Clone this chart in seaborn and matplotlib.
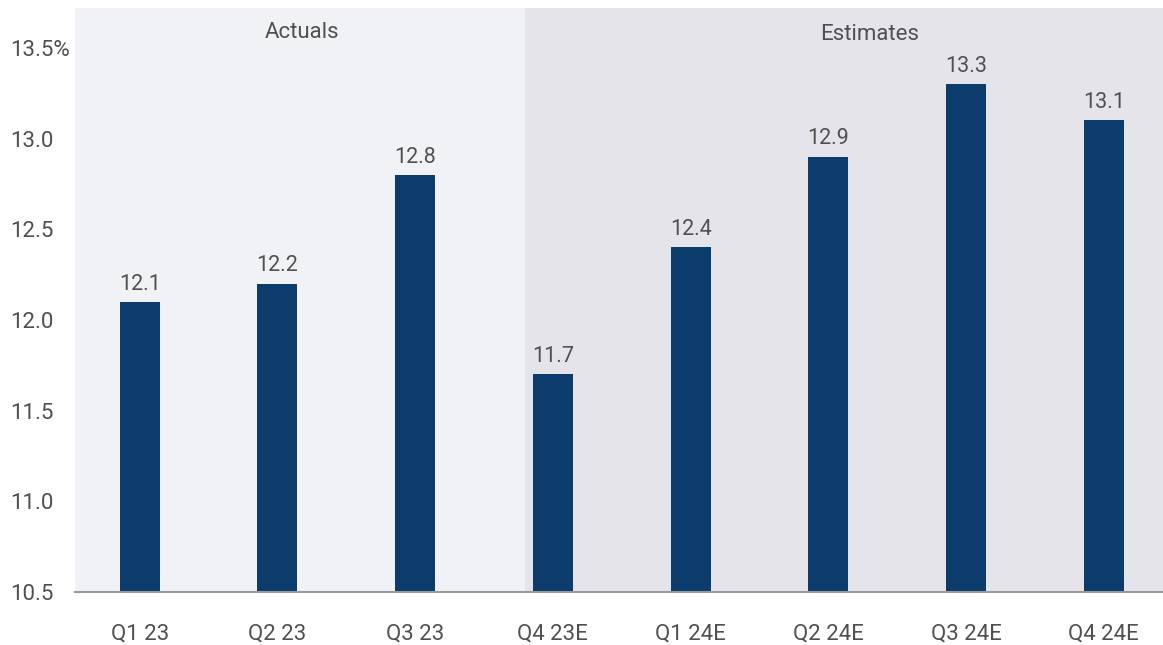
import matplotlib
matplotlib.use("Agg")
import matplotlib.pyplot as plt
import seaborn as sns
import pandas as pd

categories = ["Q1 23", "Q2 23", "Q3 23", "Q4 23E", "Q1 24E", "Q2 24E", "Q3 24E", "Q4 24E"]
values = [12.1, 12.2, 12.8, 11.7, 12.4, 12.9, 13.3, 13.1]
y_ticks = [10.5, 11.0, 11.5, 12.0, 12.5, 13.0, 13.5]
y_tick_labels = ["10.5", "11.0", "11.5", "12.0", "12.5", "13.0", "13.5%"]
region_labels = ["Actuals", "Estimates"]

sns.set_theme(style="white")
plt.rcParams['font.family'] = ['Roboto', 'DejaVu Sans']

df = pd.DataFrame({"cat": categories, "val": values})

fig = plt.figure(figsize=(11.63, 6.45), dpi=100)
ax = fig.add_axes([0.0645, 0.0822, 0.9355, 0.9054])

x_left, x_right, split = -0.47, 7.43, 2.8
ax.axvspan(x_left, split, color="#f1f2f5", zorder=0, lw=0)
ax.axvspan(split, x_right, color="#e4e4ea", zorder=0, lw=0)

sns.barplot(data=df, x="cat", y="val", color="#0b3c6b", width=0.29,
            saturation=1, linewidth=0, ax=ax, zorder=2)

ax.set_ylim(10.5, 13.72)
ax.set_xlim(x_left, x_right)
ax.set_yticks(y_ticks)
ax.set_yticklabels(y_tick_labels)
ax.set_xlabel("")
ax.set_ylabel("")

txt_color = "#505050"
for i, v in enumerate(values):
    ax.text(i, v + 0.04, f"{v:.1f}", ha="center", va="bottom",
            fontsize=15.5, color=txt_color)

ax.text(1.18, 13.585, region_labels[0], ha="center", va="center", fontsize=16, color=txt_color)
ax.text(5.30, 13.575, region_labels[1], ha="center", va="center", fontsize=16, color=txt_color)

for s in ["top", "right", "left"]:
    ax.spines[s].set_visible(False)
ax.spines["bottom"].set_color("#9a9a9a")
ax.spines["bottom"].set_linewidth(1.5)
ax.tick_params(axis="both", length=0, labelsize=16, labelcolor=txt_color)
ax.tick_params(axis="x", pad=23)
for lbl in ax.get_yticklabels():
    lbl.set_horizontalalignment("left")
ax.yaxis.set_tick_params(pad=47)

fig.savefig("out.png", dpi=100, facecolor="white")
